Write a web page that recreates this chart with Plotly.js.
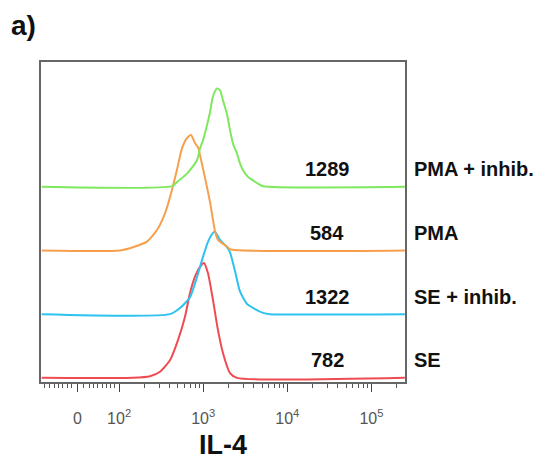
<!DOCTYPE html>
<html><head><meta charset="utf-8">
<script src="https://cdn.plot.ly/plotly-3.0.1.min.js"></script>
<style>html,body{margin:0;padding:0;background:#fff;} #chart{width:536px;height:460px;}</style>
</head><body><div id="chart"></div>
<script>
// Sample names (bottom to top) and their median IL-4 values
const samples = ['SE', 'SE + inhib.', 'PMA', 'PMA + inhib.'];
const mfi = [782, 1322, 584, 1289];

// Histogram outlines: IL-4 intensity vs relative count
const seX = [12, 146, 233, 306, 402, 501, 607, 696, 798, 915, 1021, 1139, 1306, 1497, 1718, 2080, 2519, 250000];
const seY = [0, 0, 0.5, 1.9, 5.5, 11.8, 19.1, 26.5, 31.6, 34.7, 35.9, 32.7, 24.3, 14.9, 7.7, 1.5, 0, 0];

const seInhX = [12, 402, 529, 696, 843, 993, 1139, 1306, 1380, 1581, 1864, 2080, 2385, 2735, 3313, 4124, 5134, 6218, 250000];
const seInhY = [0, 0, 1.9, 5.3, 11.6, 17.9, 22.6, 25.4, 25.8, 23.2, 21.3, 19.3, 13.5, 7.1, 3.2, 1.6, 0.4, 0, 0];

const pmaX = [12, 102, 146, 214, 282, 351, 425, 487, 559, 641, 715, 798, 876, 915, 1050, 1203, 1380, 1497, 1916, 2080, 250000];
const pmaY = [0, 0, 1.0, 2.75, 6.4, 11.6, 18.9, 25.2, 31.9, 35.1, 36.1, 33.6, 32.0, 29.8, 22.7, 15.2, 6.1, 3.3, 1.2, 0.4, 0];

const pmaInhX = [12, 425, 487, 641, 843, 915, 993, 1108, 1203, 1306, 1457, 1581, 1718, 1916, 2080, 2259, 2519, 2735, 2972, 3405, 3905, 4477, 5134, 250000];
const pmaInhY = [0, 0.2, 1.5, 4.1, 8.3, 12.0, 14.5, 19.2, 23.3, 28.3, 30.7, 30.2, 27.0, 22.7, 17.7, 13.5, 10.4, 7.3, 5.2, 3.1, 2.0, 1.0, 0.2, 0];

// Axis ticks
const tickVals = [32, 100, 1000, 10000, 100000];
const tickText = ['0', '10<sup>2</sup>', '10<sup>3</sup>', '10<sup>4</sup>', '10<sup>5</sup>'];
const minorVals = [13, 15, 17, 19, 21, 24, 27, 38, 44, 50, 56, 63, 70, 78, 87,
  200, 300, 400, 500, 600, 700, 800, 900,
  2000, 3000, 4000, 5000, 6000, 7000, 8000, 9000,
  20000, 30000, 40000, 50000, 60000, 70000, 80000, 90000, 200000];

const colors = ['#ef4c52', '#2ec2f0', '#f6a04e', '#7ee85e'];
const baseOffset = 1.3, offsetStep = 19.9;

const xs = [seX, seInhX, pmaX, pmaInhX];
const ys = [seY, seInhY, pmaY, pmaInhY];

const traces = xs.map((x, i) => ({
  type: 'scatter', mode: 'lines', x: x,
  y: ys[i].map(v => v + baseOffset + i * offsetStep),
  line: {color: colors[i], width: 2, shape: 'spline', smoothing: 0.6},
  hoverinfo: 'skip', showlegend: false
}));

const font = 'Arial, "Liberation Sans", sans-serif';
const annotations = [];
samples.forEach((s, i) => {
  const yc = baseOffset + i * offsetStep + 5.5;
  annotations.push({xref: 'paper', yref: 'y', x: 0.786, y: yc, xanchor: 'center', yanchor: 'middle',
    text: String(mfi[i]), showarrow: false, font: {family: font, size: 20, weight: 'bold', color: '#111'}});
  annotations.push({xref: 'paper', yref: 'y', x: 1.019, y: yc, xanchor: 'left', yanchor: 'middle',
    text: s, showarrow: false, font: {family: font, size: 20, weight: 'bold', color: '#111'}});
});
annotations.push({xref: 'paper', yref: 'paper', x: -0.088, y: 1.115, xanchor: 'left', yanchor: 'middle',
  text: 'a)', showarrow: false, font: {family: font, size: 28, weight: 'bold', color: '#111'}});

const layout = {
  width: 536, height: 460,
  margin: {l: 41, r: 131, t: 62, b: 78},
  paper_bgcolor: '#fff', plot_bgcolor: '#fff',
  xaxis: {
    type: 'log', range: [1.071, 5.399],
    tickmode: 'array', tickvals: tickVals, ticktext: tickText,
    ticks: 'outside', ticklen: 8, tickwidth: 1, tickcolor: '#444',
    minor: {tickmode: 'array', tickvals: minorVals, ticks: 'outside', ticklen: 4, tickwidth: 1, tickcolor: '#555'},
    ticklabelstandoff: 13,
    tickfont: {family: font, size: 16, color: '#555'},
    showline: true, linecolor: '#666', linewidth: 2, mirror: true,
    showgrid: false, zeroline: false,
    title: {text: 'IL-4', font: {family: font, size: 27, weight: 'bold', color: '#111'}, standoff: 9}
  },
  yaxis: {
    range: [0, 100], showticklabels: false, ticks: '',
    showline: true, linecolor: '#666', linewidth: 2, mirror: true,
    showgrid: false, zeroline: false
  },
  annotations: annotations
};

Plotly.newPlot('chart', traces, layout, {staticPlot: true, displayModeBar: false});
</script>
</body></html>
